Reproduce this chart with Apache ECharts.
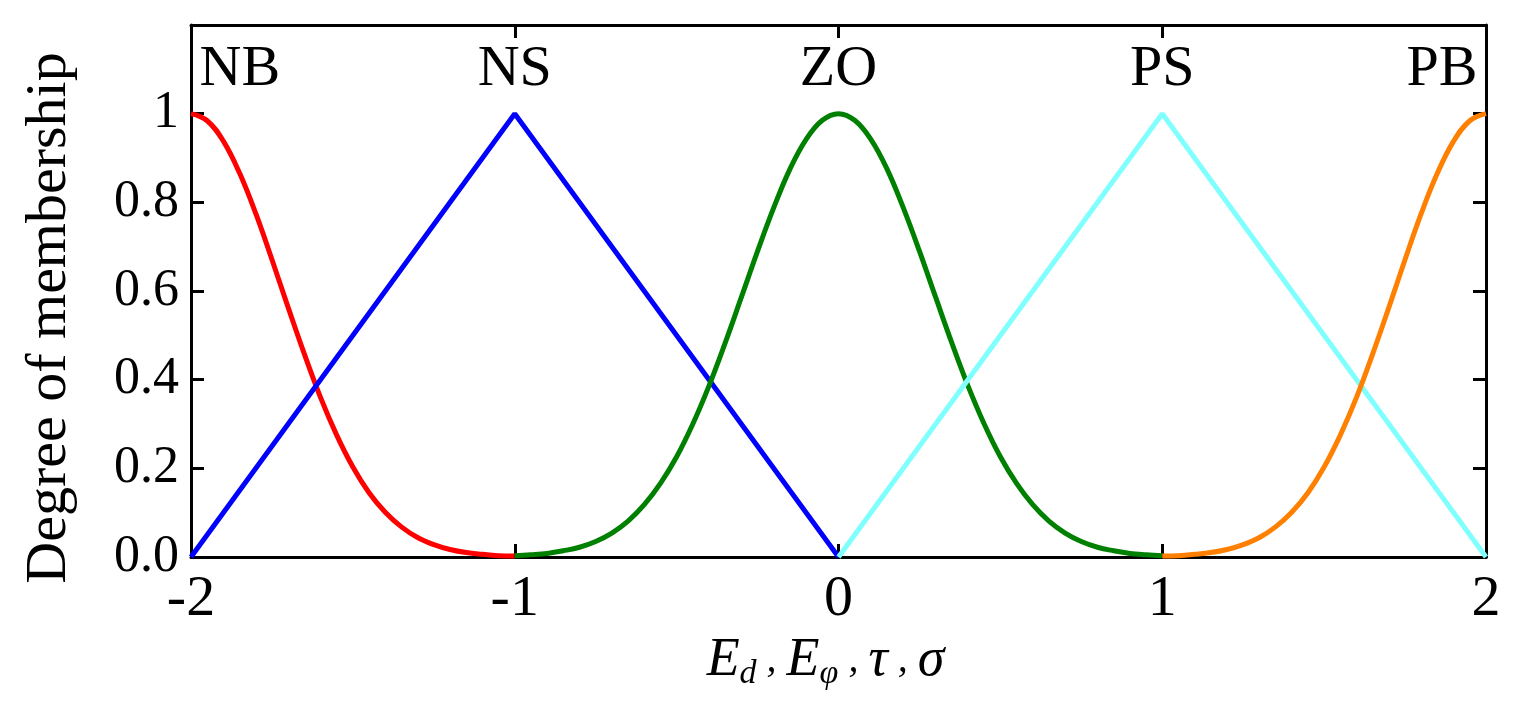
<!DOCTYPE html>
<html>
<head>
<meta charset="utf-8">
<script src="https://cdn.jsdelivr.net/npm/echarts@6/dist/echarts.min.js"></script>
<style>html,body{margin:0;padding:0;background:#fff;}#c{width:1521px;height:705px;}</style>
</head>
<body>
<div id="c"></div>
<script>
// ---- data ----
const xTickLabels = ['-2', '-1', '0', '1', '2'];
const yTickLabels = ['0.0', '0.2', '0.4', '0.6', '0.8', '1', ''];
const setNames = ['NB', 'NS', 'ZO', 'PS', 'PB'];
const setCenters = [-2, -1, 0, 1, 2];
const setLabelY = 1.1;

const nbX = [-2, -1.95, -1.9, -1.85, -1.8, -1.75, -1.7, -1.65, -1.6, -1.55, -1.5, -1.45, -1.4, -1.35, -1.3, -1.25, -1.2, -1.15, -1.1, -1.05, -1];
const nbY = [1, 0.984, 0.938, 0.866, 0.775, 0.671, 0.563, 0.458, 0.36, 0.275, 0.203, 0.145, 0.101, 0.068, 0.044, 0.028, 0.017, 0.01, 0.006, 0.003, 0.002];

const nsX = [-2, -1, 0];
const nsY = [0, 1, 0];

const zoX = [-1, -0.95, -0.9, -0.85, -0.8, -0.75, -0.7, -0.65, -0.6, -0.55, -0.5, -0.45, -0.4, -0.35, -0.3, -0.25, -0.2, -0.15, -0.1, -0.05, 0,
             0.05, 0.1, 0.15, 0.2, 0.25, 0.3, 0.35, 0.4, 0.45, 0.5, 0.55, 0.6, 0.65, 0.7, 0.75, 0.8, 0.85, 0.9, 0.95, 1];
const zoY = [0.003, 0.005, 0.008, 0.014, 0.022, 0.035, 0.054, 0.081, 0.118, 0.166, 0.226, 0.3, 0.386, 0.483, 0.586, 0.69, 0.788, 0.875, 0.942, 0.985, 1,
             0.985, 0.942, 0.875, 0.788, 0.69, 0.586, 0.483, 0.386, 0.3, 0.226, 0.166, 0.118, 0.081, 0.054, 0.035, 0.022, 0.014, 0.008, 0.005, 0.003];

const psX = [0, 1, 2];
const psY = [0, 1, 0];

const pbX = [1, 1.05, 1.1, 1.15, 1.2, 1.25, 1.3, 1.35, 1.4, 1.45, 1.5, 1.55, 1.6, 1.65, 1.7, 1.75, 1.8, 1.85, 1.9, 1.95, 2];
const pbY = [0.002, 0.003, 0.006, 0.01, 0.017, 0.028, 0.044, 0.068, 0.101, 0.145, 0.203, 0.275, 0.36, 0.458, 0.563, 0.671, 0.775, 0.866, 0.938, 0.984, 1];

// ---- chart ----
const FONT = 'Liberation Serif';
const zip = (xs, ys) => xs.map((x, i) => [x, ys[i]]);

const chart = echarts.init(document.getElementById('c'), null, {renderer: 'canvas'});

function lineSeries(name, xs, ys, color, smooth) {
  return {
    name: name, type: 'line', data: zip(xs, ys), smooth: smooth ? 0.4 : false,
    showSymbol: false, symbol: 'none', clip: true,
    lineStyle: {color: color, width: 5}, itemStyle: {color: color},
    emphasis: {disabled: true},
    animation: false, z: 3
  };
}

const tickStyle = {show: true, inside: true, length: 13, lineStyle: {color: '#000', width: 3}};
const lineAx = {show: true, onZero: false, lineStyle: {color: '#000', width: 3}};
const bigText = {fontFamily: FONT, fontSize: 58, color: '#000', fontWeight: 'normal'};

const option = {
  backgroundColor: '#fff',
  animation: false,
  textStyle: {fontFamily: FONT, color: '#000'},
  grid: {left: 191, right: 35, top: 25, bottom: 148, containLabel: false},
  xAxis: [
    {
      type: 'value', min: -2, max: 2, interval: 1, position: 'bottom',
      axisLine: lineAx, axisTick: tickStyle, splitLine: {show: false},
      axisLabel: {
        fontFamily: FONT, fontSize: 58, color: '#000', margin: 14,
        formatter: (v) => xTickLabels[Math.round(v + 2)]
      },
      name: '{i|E}{s|d}{c| , }{i|E}{s|φ}{c| , }{i|τ}{c| , }{i|σ}',
      nameLocation: 'middle', nameGap: 39,
      nameTextStyle: {
        fontFamily: FONT, color: '#000',
        padding: [0, 26, 0, 0],
        rich: {
          i: {fontFamily: FONT, fontStyle: 'italic', fontSize: 54, color: '#000', lineHeight: 60, verticalAlign: 'middle'},
          c: {fontFamily: FONT, fontStyle: 'italic', fontSize: 40, color: '#000', lineHeight: 60, verticalAlign: 'middle'},
          s: {fontFamily: FONT, fontStyle: 'italic', fontSize: 34, color: '#000', lineHeight: 20, verticalAlign: 'bottom'}
        }
      }
    },
    {
      type: 'value', min: -2, max: 2, interval: 1, position: 'top',
      axisLine: lineAx, axisTick: tickStyle, axisLabel: {show: false}, splitLine: {show: false}
    }
  ],
  yAxis: [
    {
      type: 'value', min: 0, max: 1.2, interval: 0.2, position: 'left',
      axisLine: lineAx, axisTick: tickStyle, splitLine: {show: false},
      axisLabel: {
        fontFamily: FONT, fontSize: 52, color: '#000', margin: 12,
        formatter: (v) => yTickLabels[Math.round(v / 0.2)]
      },
      name: '{t|Degree of membership}', nameLocation: 'middle', nameGap: 112,
      nameTextStyle: {
        fontFamily: FONT, fontSize: 58, color: '#000', padding: [0, 54, 0, 0],
        rich: {t: bigText}
      }
    },
    {
      type: 'value', min: 0, max: 1.2, interval: 0.2, position: 'right',
      axisLine: lineAx, axisTick: tickStyle, axisLabel: {show: false}, splitLine: {show: false}
    }
  ],
  series: [
    lineSeries('NB', nbX, nbY, '#ff0000', true),
    lineSeries('NS', nsX, nsY, '#0000ff', false),
    lineSeries('ZO', zoX, zoY, '#008000', true),
    lineSeries('PS', psX, psY, '#80ffff', false),
    lineSeries('PB', pbX, pbY, '#ff8000', true),
    {
      name: 'labels', type: 'scatter', symbolSize: 1, silent: true, z: 5,
      itemStyle: {color: 'rgba(0,0,0,0)', opacity: 1},
      emphasis: {disabled: true},
      label: {
        show: true, position: 'inside', opacity: 1,
        fontFamily: FONT, fontSize: 58, color: '#000',
        formatter: (p) => '{t|' + setNames[p.dataIndex] + '}',
        rich: {t: bigText}
      },
      labelLayout: {hideOverlap: false},
      data: setNames.map((n, i) => ({
        value: [setCenters[i], setLabelY],
        label: {
          position: i === 0 ? 'right' : (i === 4 ? 'left' : 'inside'),
          distance: 8
        }
      }))
    }
  ]
};
chart.setOption(option);
</script>
</body>
</html>
